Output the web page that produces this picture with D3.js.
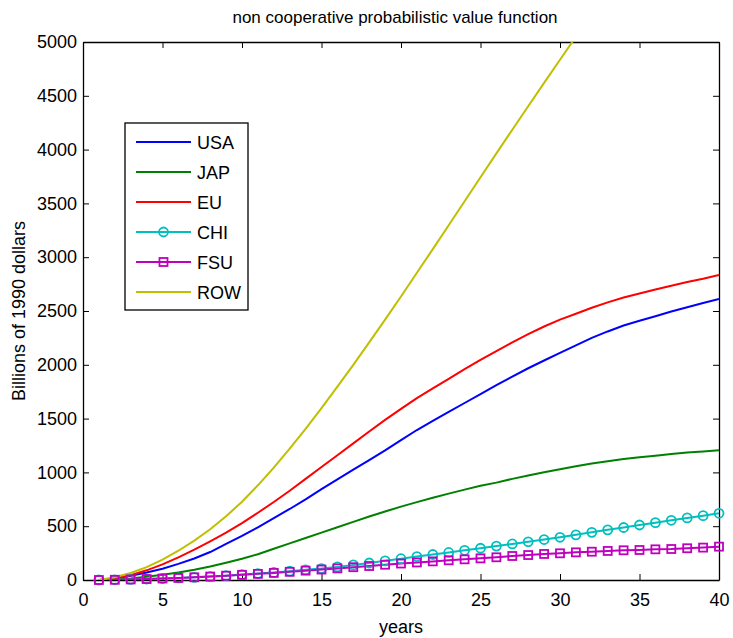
<!DOCTYPE html>
<html>
<head>
<meta charset="utf-8">
<script src="https://cdn.jsdelivr.net/npm/d3@7"></script>
<style>
  body { margin: 0; background: #fff; }
  text { font-family: "Liberation Sans", Arial, sans-serif; }
</style>
</head>
<body>
<svg width="733" height="638"></svg>
<script>
var years = d3.range(1, 41);
var usa = [0, 15, 40, 70, 105, 150, 200, 260, 335, 410, 490, 575, 660, 750, 845, 935, 1025, 1115, 1205, 1300,
  1394, 1478, 1562, 1645, 1728, 1810, 1890, 1968, 2040, 2110, 2180, 2250, 2310, 2365, 2410, 2452, 2495, 2535, 2575, 2612];
var jap = [0, 5, 15, 30, 48, 70, 95, 125, 160, 197, 240, 290, 340, 390, 440, 490, 540, 590, 637, 682,
  724, 764, 803, 840, 875, 905, 940, 972, 1002, 1030, 1058, 1082, 1103, 1125, 1140, 1155, 1170, 1185, 1195, 1205];
var eu = [0, 15, 45, 90, 145, 210, 282, 360, 440, 528, 625, 725, 830, 940, 1050, 1160, 1270, 1380, 1488, 1590,
  1690, 1780, 1870, 1960, 2045, 2128, 2208, 2285, 2356, 2420, 2475, 2530, 2580, 2625, 2662, 2700, 2735, 2770, 2800, 2835];
var chi = [0, 2, 5, 9, 14, 19, 25, 32, 40, 50, 60, 70, 82, 95, 106, 122, 140, 158, 178, 198,
  218, 237, 256, 276, 295, 315, 335, 355, 376, 397, 420, 443, 466, 488, 511, 533, 555, 577, 598, 620];
var fsu = [0, 2, 5, 9, 14, 19, 25, 32, 40, 48, 57, 66, 76, 87, 97, 108, 119, 130, 142, 153,
  163, 173, 183, 192, 201, 211, 223, 232, 242, 248, 257, 263, 270, 276, 279, 285, 288, 295, 301, 310];
var row = [0, 25, 65, 120, 190, 272, 366, 472, 592, 728, 880, 1045, 1220, 1405, 1598, 1797, 2000, 2208, 2420, 2635,
  2855, 3075, 3297, 3520, 3743, 3965, 4185, 4403, 4620, 4835, 5050, 5260, 5470, 5675, 5880, 6080, 6280, 6475, 6670, 6860];

var xTicks = [0, 5, 10, 15, 20, 25, 30, 35, 40];
var yTicks = d3.range(0, 5001, 500);

var series = [
  { name: "USA", values: usa, color: "#0000ff" },
  { name: "JAP", values: jap, color: "#008000" },
  { name: "EU", values: eu, color: "#ff0000" },
  { name: "CHI", values: chi, color: "#00bfbf", marker: "circle" },
  { name: "FSU", values: fsu, color: "#bf00bf", marker: "square" },
  { name: "ROW", values: row, color: "#bfbf00" }
];

var svg = d3.select("svg");
var pLeft = 83, pRight = 719, pTop = 42, pBottom = 580;

var x = d3.scaleLinear().domain([0, 40]).range([pLeft, pRight]);
var y = d3.scaleLinear().domain([0, 5000]).range([pBottom, pTop]);

svg.append("clipPath").attr("id", "plotclip")
  .append("rect").attr("x", pLeft).attr("y", pTop)
  .attr("width", pRight - pLeft).attr("height", pBottom - pTop);

// axes, ticks inward on all four sides
svg.append("g").attr("transform", "translate(0," + pBottom + ")")
  .call(d3.axisBottom(x).tickValues(xTicks).tickSizeInner(-6).tickSizeOuter(0).tickPadding(13).tickFormat(d3.format("d")));
svg.append("g").attr("transform", "translate(0," + pTop + ")")
  .call(d3.axisTop(x).tickValues(xTicks).tickSizeInner(-6).tickSizeOuter(0).tickFormat(""));
svg.append("g").attr("transform", "translate(" + pLeft + ",0)")
  .call(d3.axisLeft(y).tickValues(yTicks).tickSizeInner(-6).tickSizeOuter(0).tickPadding(6).tickFormat(d3.format("d")));
svg.append("g").attr("transform", "translate(" + pRight + ",0)")
  .call(d3.axisRight(y).tickValues(yTicks).tickSizeInner(-6).tickSizeOuter(0).tickFormat(""));

svg.selectAll(".domain").attr("stroke", "#000").attr("stroke-width", 1.3);
svg.selectAll(".tick line").attr("stroke", "#000");
svg.selectAll(".tick text").attr("font-size", "18px").attr("fill", "#000")
  .style("font-family", "'Liberation Sans', Arial, sans-serif");

var line = d3.line().x((d, i) => x(years[i])).y(d => y(d));

var plot = svg.append("g").attr("clip-path", "url(#plotclip)");
series.forEach(function (s) {
  plot.append("path").datum(s.values)
    .attr("fill", "none").attr("stroke", s.color).attr("stroke-width", 2)
    .attr("d", line);
  if (s.marker == "circle") {
    svg.selectAll(null).data(s.values).enter().append("circle")
      .attr("cx", (d, i) => x(years[i])).attr("cy", d => y(d)).attr("r", 4.5)
      .attr("fill", "none").attr("stroke", s.color).attr("stroke-width", 1.8);
  }
  if (s.marker == "square") {
    svg.selectAll(null).data(s.values).enter().append("rect")
      .attr("x", (d, i) => x(years[i]) - 4).attr("y", d => y(d) - 4)
      .attr("width", 8).attr("height", 8)
      .attr("fill", "none").attr("stroke", s.color).attr("stroke-width", 1.8);
  }
});

// title and axis labels
svg.append("text").attr("x", (pLeft + pRight) / 2 - 6).attr("y", 23)
  .attr("text-anchor", "middle").attr("font-size", "17px").text("non cooperative probabilistic value function");
svg.append("text").attr("x", (pLeft + pRight) / 2).attr("y", 633)
  .attr("text-anchor", "middle").attr("font-size", "18px").text("years");
svg.append("text").attr("transform", "translate(25," + (pTop + pBottom) / 2 + ") rotate(-90)")
  .attr("text-anchor", "middle").attr("font-size", "18px").text("Billions of 1990 dollars");

// legend
var lg = svg.append("g");
lg.append("rect").attr("x", 125).attr("y", 123).attr("width", 123).attr("height", 187)
  .attr("fill", "#fff").attr("stroke", "#000").attr("stroke-width", 1.3);
series.forEach(function (s, i) {
  var ly = 142 + i * 30;
  lg.append("line").attr("x1", 136).attr("x2", 191).attr("y1", ly).attr("y2", ly)
    .attr("stroke", s.color).attr("stroke-width", 2);
  if (s.marker == "circle") {
    lg.append("circle").attr("cx", 163.5).attr("cy", ly).attr("r", 4.5)
      .attr("fill", "none").attr("stroke", s.color).attr("stroke-width", 1.8);
  }
  if (s.marker == "square") {
    lg.append("rect").attr("x", 159.5).attr("y", ly - 4).attr("width", 8).attr("height", 8)
      .attr("fill", "none").attr("stroke", s.color).attr("stroke-width", 1.8);
  }
  lg.append("text").attr("x", 197).attr("y", ly + 6.5).attr("font-size", "18px").text(s.name);
});
</script>
</body>
</html>
